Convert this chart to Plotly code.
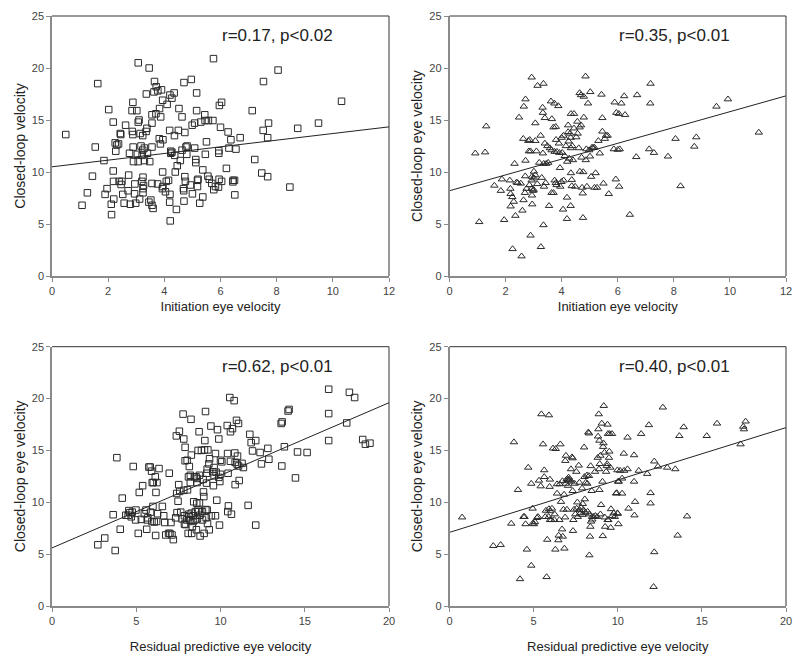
import plotly.graph_objects as go

# ---------------- data ----------------
tl_points = [(0.49,13.6),(1.07,6.8),(1.26,8.0),(1.44,9.6),(1.54,12.4),(1.63,18.5),(1.85,11.1),(1.89,7.85),(1.96,8.4),(2.02,16.0),(2.11,6.9),(2.12,5.9),(2.18,10.1),(2.18,14.8),(2.2,7.4),(2.19,9.1),(2.25,12.8),(2.27,12.0),(2.31,12.6),(2.37,12.7),(2.43,13.7),(2.45,13.6),(2.39,9.1),(2.46,8.8),(2.49,9.1),(2.52,7.85),(2.57,7.0),(2.62,14.5),(2.73,9.7),(2.76,11.8),(2.79,6.9),(2.71,8.2),(2.88,16.7),(2.85,15.9),(2.86,13.9),(2.88,13.6),(2.89,12.4),(2.9,11.0),(2.95,8.85),(2.94,7.9),(2.98,7.0),(3.02,15.9),(3.07,20.5),(3.07,14.8),(3.1,15.0),(3.04,11.7),(3.07,11.0),(3.12,7.4),(3.14,13.7),(3.17,12.5),(3.23,13.5),(3.23,12.1),(3.21,11.6),(3.2,9.1),(3.24,9.5),(3.24,8.4),(3.24,8.0),(3.26,8.7),(3.29,11.1),(3.29,12.3),(3.35,13.9),(3.36,17.5),(3.38,14.2),(3.4,11.8),(3.45,7.1),(3.46,20.0),(3.48,11.0),(3.52,7.3),(3.56,15.5),(3.56,14.7),(3.56,12.4),(3.56,8.9),(3.56,6.8),(3.6,6.5),(3.65,18.7),(3.7,15.6),(3.63,17.7),(3.71,18.2),(3.77,17.8),(3.83,16.1),(3.82,13.2),(3.87,15.3),(3.86,12.7),(3.76,8.85),(3.9,17.9),(3.94,16.9),(3.94,10.0),(3.93,8.4),(3.95,8.6),(3.95,13.1),(4.04,8.1),(4.07,9.1),(4.1,16.5),(4.15,9.2),(4.19,14.0),(4.2,17.4),(4.23,12.0),(4.23,11.8),(4.19,7.1),(4.2,7.85),(4.21,5.3),(4.27,17.1),(4.27,11.9),(4.35,17.6),(4.36,13.5),(4.37,11.6),(4.39,10.0),(4.43,6.4),(4.46,10.6),(4.5,14.0),(4.52,16.1),(4.57,11.1),(4.63,15.3),(4.63,12.1),(4.68,8.4),(4.69,8.2),(4.7,7.2),(4.7,18.6),(4.73,13.8),(4.73,9.55),(4.75,9.1),(4.77,12.4),(4.81,12.5),(4.8,11.7),(4.93,8.75),(4.96,18.9),(4.99,14.5),(5.0,7.9),(5.08,14.7),(5.08,12.3),(5.12,10.9),(5.12,11.2),(5.15,17.6),(5.15,15.9),(5.18,9.2),(5.18,8.6),(5.2,9.3),(5.26,7.0),(5.3,14.8),(5.37,10.2),(5.37,7.6),(5.44,15.5),(5.45,14.95),(5.46,11.7),(5.5,12.9),(5.55,9.6),(5.57,14.95),(5.6,9.3),(5.73,14.95),(5.75,20.9),(5.69,8.9),(5.76,8.3),(5.82,8.6),
    (5.93,8.55),(5.95,9.3),(6.04,9.1),(5.94,12.05),(5.94,11.8),(5.96,16.4),(6.04,16.7),(6.0,14.3),(6.27,13.85),(6.37,13.1),(6.3,12.3),(6.21,10.35),(6.45,9.2),(6.5,9.2),(6.44,9.05),(6.51,7.8),(6.55,12.2),(6.7,13.3),(7.13,15.9),(7.22,11.2),(7.47,9.9),(7.53,18.7),(7.52,14.0),(7.68,13.3),(7.71,14.7),(7.68,9.55),(8.05,19.8),(8.47,8.55),(8.75,14.2),(9.49,14.7),(10.31,16.8)]

tr_points = [(0.92,11.8),(1.06,5.2),(1.27,11.9),(1.31,14.4),(1.6,8.7),(1.83,8.2),(1.87,9.3),(1.95,5.4),(2.15,9.2),(2.17,8.4),(2.18,7.9),(2.18,6.7),(2.24,7.6),(2.25,2.6),(2.29,7.15),(2.32,10.8),(2.35,5.8),(2.39,9.0),(2.43,8.95),(2.48,15.25),(2.54,8.9),(2.57,1.9),(2.6,6.3),(2.63,13.2),(2.64,7.3),(2.65,16.3),(2.69,8.0),(2.71,17.0),(2.71,11.1),(2.7,9.6),(2.75,8.4),(2.81,13.0),(2.83,12.0),(2.86,13.1),(2.85,8.75),(2.89,12.0),(2.89,3.9),(2.93,19.1),(2.93,9.2),(2.94,9.55),(2.93,8.4),(2.94,7.75),(2.98,8.2),(2.95,6.9),(3.0,8.3),(3.01,10.05),(3.02,9.4),(3.06,13.0),(3.06,14.7),(3.06,9.7),(3.1,12.0),(3.14,18.3),(3.13,8.85),(3.2,10.9),(3.25,13.5),(3.26,2.8),(3.29,9.45),(3.32,16.2),(3.33,15.7),(3.35,18.5),(3.33,11.8),(3.35,4.9),(3.36,10.8),(3.37,8.6),(3.4,15.2),(3.4,12.75),(3.43,8.95),(3.45,10.8),(3.49,12.5),(3.52,10.9),(3.55,6.75),(3.58,12.3),(3.62,16.8),(3.64,12.1),(3.65,15.1),(3.64,8.0),(3.71,8.0),(3.74,16.6),(3.71,14.3),(3.75,9.2),(3.75,11.95),(3.79,14.35),(3.8,13.1),(3.79,8.95),(3.82,8.75),(3.83,11.95),(3.88,16.35),(3.9,12.75),(3.92,11.85),(3.94,10.4),(3.95,8.6),(3.99,9.05),(4.0,13.3),(4.02,11.85),(4.05,6.4),(4.06,13.5),(4.07,9.2),(4.11,11.55),(4.15,12.5),(4.19,7.55),(4.19,5.5),(4.2,11.0),(4.23,14.5),(4.23,13.85),(4.25,12.95),(4.27,11.3),(4.3,13.7),(4.32,13.3),(4.32,6.75),(4.33,15.6),(4.33,9.9),(4.33,12.3),(4.36,9.25),(4.36,8.65),(4.38,12.5),(4.4,11.15),(4.44,15.6),(4.44,14.2),(4.48,8.6),(4.52,13.35),(4.56,14.85),(4.57,13.7),(4.61,12.3),(4.64,17.6),(4.64,14.3),(4.65,10.05),(4.69,17.4),(4.69,14.5),(4.71,11.4),(4.73,8.5),(4.75,7.95),(4.76,5.6),(4.77,10.0),(4.79,15.25),(4.79,17.25),(4.85,19.2),(4.86,11.15),(4.88,12.2),(4.9,8.6),(4.94,16.6),(4.98,12.1),(5.01,11.5),(5.02,17.7),(5.05,9.55),(5.08,12.35),(5.12,12.35),(5.17,12.35),(5.17,8.5),(5.21,9.9),(5.26,8.5),(5.31,13.0),(5.36,11.8),(5.42,17.45),(5.45,15.2),(5.45,13.9),(5.49,8.9),(5.54,13.2),(5.58,13.5),(5.64,13.5),(5.68,7.9),(5.89,16.7),(5.86,12.2),(5.93,9.3),(5.95,15.7),(6.0,12.15),(6.05,8.6),
    (6.04,15.6),(6.13,16.6),(6.23,17.3),(6.26,15.5),(6.07,12.2),(6.43,5.9),(6.66,11.45),(6.69,17.4),(7.12,12.2),(7.17,18.5),(7.16,16.6),(7.29,11.85),(7.79,11.5),(8.06,13.2),(8.24,8.65),(8.73,12.45),(8.8,13.35),(9.52,16.3),(9.93,17.0),(11.03,13.8)]

bl_points = [(2.72,5.9),(3.13,6.55),(3.63,8.8),(3.75,5.35),(3.85,14.3),(4.05,7.4),(4.17,10.4),(4.38,8.75),(4.52,8.75),(4.56,9.2),(4.62,9.0),(4.7,8.6),(4.76,9.05),(4.82,13.45),(4.96,8.3),(4.98,9.25),(5.12,7.0),(5.18,10.95),(5.3,8.35),(5.38,11.6),(5.48,8.9),(5.58,9.25),(5.62,7.4),(5.65,8.3),(5.69,8.5),(5.75,13.4),(5.83,13.4),(5.85,9.05),(5.91,13.0),(5.93,8.15),(5.95,11.9),(5.99,9.6),(6.01,11.9),(6.07,8.1),(6.13,12.45),(6.15,6.8),(6.17,10.95),(6.21,8.15),(6.23,11.9),(6.27,8.9),(6.35,13.25),(6.55,9.6),(6.63,8.7),(6.69,8.05),(6.75,6.85),(6.92,7.0),(6.96,12.8),(7.0,7.0),(7.06,8.05),(7.12,6.85),(7.2,6.4),(7.34,8.5),(7.38,16.4),(7.4,10.85),(7.42,9.0),(7.48,10.1),(7.52,11.7),(7.56,16.85),(7.58,11.05),(7.64,9.05),(7.72,8.4),(7.78,18.5),(7.82,16.1),(7.82,11.15),(7.86,8.7),(7.86,7.9),(7.9,15.3),(7.92,7.85),(7.9,14.0),(7.99,8.3),(8.02,14.05),(8.04,11.2),(8.08,7.0),(8.1,12.45),(8.12,8.85),(8.14,8.6),(8.15,13.45),(8.19,8.25),(8.21,12.6),(8.21,11.9),(8.25,18.0),(8.27,8.95),(8.27,14.55),(8.29,7.0),(8.33,7.65),(8.37,8.15),(8.37,8.7),(8.41,10.05),(8.45,12.45),(8.49,8.3),(8.51,9.1),(8.55,12.45),(8.57,7.35),(8.59,9.9),(8.61,11.9),(8.61,12.3),(8.63,8.4),(8.67,9.25),(8.67,15.0),(8.69,9.1),(8.73,16.8),(8.75,12.6),(8.75,9.95),(8.77,8.75),(8.79,6.75),(8.87,15.0),(8.93,9.1),(8.93,8.3),(8.97,12.2),(8.99,11.0),(9.01,10.55),(9.03,7.0),(9.05,15.05),(9.11,18.75),(9.13,9.3),(9.15,8.5),(9.17,11.85),(9.19,12.8),(9.21,13.2),(9.21,9.25),(9.23,7.95),(9.25,15.05),(9.31,13.7),(9.33,7.35),(9.35,14.2),(9.43,17.35),(9.46,8.7),(9.54,12.95),(9.58,11.6),(9.62,12.55),(9.7,14.7),(9.7,8.7),(9.74,12.9),(9.78,10.2),(9.82,17.0),(9.9,16.1),(9.94,7.8),(9.9,12.4),
    (10.55,20.1),(10.81,19.8),(10.71,17.1),(10.4,17.4),(10.95,17.9),(11.07,17.6),(10.59,16.8),(9.07,15.95),(10.42,14.7),(10.85,14.75),(11.01,14.45),(10.08,13.9),(10.59,13.95),(10.0,14.05),(9.62,13.35),(10.87,13.85),(10.99,13.65),(11.07,13.5),(11.28,13.75),(11.36,13.35),(10.0,12.7),(10.45,12.8),(9.96,12.0),(10.87,11.7),(11.11,12.1),(10.47,9.65),(10.43,9.1),(10.65,8.85),(11.64,9.7),(12.09,7.8),(11.74,16.55),(11.82,15.75),(12.09,15.95),(11.9,14.95),(12.35,14.8),(12.43,13.7),(12.81,15.2),(12.87,14.15),(13.6,17.6),(13.66,17.75),(14.01,18.8),(14.07,18.95),(13.79,15.35),(13.64,13.5),(14.57,14.85),(15.14,14.8),(14.45,12.35),(16.42,20.9),(16.42,18.55),(16.42,15.95),(17.65,20.6),(17.96,20.1),(17.49,17.65),(18.44,16.05),(18.6,15.6),(18.87,15.7)]

br_points = [(0.75,8.55),(2.6,5.8),(3.04,5.9),(3.67,7.95),(3.83,15.8),(4.07,11.2),(4.19,2.6),(4.4,8.6),(4.46,8.6),(4.52,7.9),(4.6,5.45),(4.68,13.35),(4.86,3.9),(4.86,11.8),(4.94,9.4),(4.94,7.95),(5.02,7.9),(5.08,8.1),(5.2,8.5),(5.26,8.6),(5.32,12.1),(5.42,11.55),(5.46,18.5),(5.56,15.6),(5.63,13.1),(5.63,12.45),(5.69,8.6),(5.73,9.2),(5.77,2.8),(5.81,6.4),(5.89,8.6),(5.91,18.4),(5.91,9.35),(5.97,12.2),(5.95,11.5),(5.97,8.3),(5.99,9.15),(6.05,8.3),(6.09,9.4),(6.15,15.2),(6.23,8.3),(6.25,8.85),(6.29,5.45),(6.31,15.15),(6.39,11.75),(6.39,10.85),(6.47,6.35),(6.49,6.8),(6.53,8.3),(6.55,11.75),(6.59,15.6),(6.63,10.05),(6.69,7.4),(6.71,12.05),(6.73,6.7),(6.77,9.3),(6.81,10.75),(6.83,5.55),(6.87,8.55),(6.88,14.0),(6.9,11.8),(6.92,14.5),(6.96,12.2),(6.98,9.3),(7.04,11.6),(7.06,12.2),(7.08,12.4),(7.1,12.1),(7.16,12.2),(7.22,13.2),(7.24,12.0),(7.28,14.35),(7.32,14.25),(7.32,11.1),(7.34,7.25),(7.36,8.3),(7.4,9.3),(7.44,11.8),(7.48,8.85),(7.54,12.95),(7.56,9.4),(7.6,10.0),(7.62,8.6),(7.68,13.55),(7.72,11.9),(7.74,9.25),(7.78,8.95),(7.82,9.5),(7.88,11.35),(7.9,8.8),(7.92,9.85),(7.96,9.25),(8.0,15.3),(8.02,12.45),(8.04,10.3),(8.08,9.0),(8.1,11.9),(8.17,12.6),(8.19,11.8),(8.21,9.1),(8.25,16.75),(8.29,16.65),(8.29,12.55),(8.31,8.85),(8.31,4.9),(8.35,6.7),(8.37,7.65),(8.39,13.5),(8.41,8.15),(8.45,11.1),(8.47,8.6),(8.49,8.35),(8.55,8.6),(8.65,12.95),(8.67,8.7),(8.77,8.6),(8.81,14.3),(8.83,16.35),(8.85,17.05),(8.87,18.5),(8.89,13.2),(8.91,15.95),(8.91,11.2),(8.93,13.7),(8.97,14.5),(8.97,8.85),(9.01,9.75),(9.05,17.6),(9.09,12.0),(9.11,6.75),(9.13,15.35),(9.15,15.7),(9.17,19.3),(9.21,14.8),(9.23,8.55),(9.25,7.65),(9.31,12.95),(9.35,13.5),(9.37,13.7),(9.39,17.5),(9.42,16.6),(9.44,8.3),(9.48,14.3),(9.52,16.6),(9.56,13.35),(9.58,7.55),(9.6,9.35),(9.66,16.6),(9.68,8.7),(9.76,8.95),(9.82,8.6),(9.94,10.9),(9.98,8.95),(10.02,12.0),(9.98,13.1),(10.04,7.9),(10.06,12.0),
    (10.14,13.05),(10.38,13.05),(10.58,13.2),(10.26,12.3),(10.26,10.85),(9.9,10.85),(10.0,8.9),(9.4,8.3),(9.5,14.9),(10.36,14.7),(10.58,16.25),(10.97,14.55),(10.97,12.0),(11.03,10.05),(10.99,8.75),(10.64,9.4),(11.25,13.05),(11.39,16.6),(11.75,12.75),(11.85,17.45),(11.95,10.9),(11.95,9.9),(12.17,13.95),(12.39,13.45),(12.17,5.2),(12.13,1.85),(12.68,19.15),(12.94,13.35),(13.42,13.2),(13.56,6.8),(13.66,16.4),(13.92,17.25),(14.12,8.65),(15.29,16.4),(15.9,17.6),(17.3,15.6),(17.46,17.3),(17.5,17.05),(17.6,17.8)]

# regression lines: (intercept, slope)
fit_lines = {"tl": (10.5, 0.32), "tr": (8.2, 0.76), "bl": (5.6, 0.70), "br": (7.1, 0.505)}
annot_texts = {"tl": "r=0.17, p<0.02", "tr": "r=0.35, p<0.01", "bl": "r=0.62, p<0.01", "br": "r=0.40, p<0.01"}
x_titles = {"tl": "Initiation eye velocity", "tr": "Initiation eye velocity",
            "bl": "Residual predictive eye velocity", "br": "Residual predictive eye velocity"}
y_titles = {"tl": "Closed-loop velocity", "tr": "Closed-loop eye velocity",
            "bl": "Closed-loop eye velocity", "br": "Closed-loop eye velocity"}
x_ranges = {"tl": 12, "tr": 12, "bl": 20, "br": 20}
x_dticks = {"tl": 2, "tr": 2, "bl": 5, "br": 5}
y_ticks = [0, 5, 10, 15, 20, 25]

# ---------------- layout ----------------
W, H = 800, 662
FONT = "Liberation Sans, Arial, sans-serif"
panels = {
    "tl": dict(ax="", px=(52, 389), py=(16, 276), pts=tl_points, sym="square-open", ms=6.5, xstand=6),
    "tr": dict(ax="2", px=(449.5, 786), py=(16, 276), pts=tr_points, sym="triangle-up-open", ms=6.5, xstand=6),
    "bl": dict(ax="3", px=(52, 389), py=(346.7, 606), pts=bl_points, sym="square-open", ms=6.5, xstand=16),
    "br": dict(ax="4", px=(449.5, 786), py=(346.7, 606), pts=br_points, sym="triangle-up-open", ms=6.5, xstand=16),
}

fig = go.Figure()
layout = dict(width=W, height=H, margin=dict(l=0, r=0, t=0, b=0),
              paper_bgcolor="white", plot_bgcolor="white", showlegend=False,
              font=dict(family=FONT, color="#333"))
annotations = []
shapes = []
for key, p in panels.items():
    ax = p["ax"]
    xa, ya = "x" + ax, "y" + ax
    xs = [q[0] for q in p["pts"]]
    ys = [q[1] for q in p["pts"]]
    fig.add_trace(go.Scatter(x=xs, y=ys, mode="markers", xaxis=xa, yaxis=ya,
                             marker=dict(symbol=p["sym"], size=p["ms"], color="#2a2a2a",
                                         line=dict(width=1, color="#2a2a2a"))))
    b, m = fit_lines[key]
    xmax = x_ranges[key]
    fig.add_trace(go.Scatter(x=[0, xmax], y=[b, b + m * xmax], mode="lines", xaxis=xa, yaxis=ya,
                             line=dict(color="#222", width=1)))
    xd = [p["px"][0] / W, p["px"][1] / W]
    yd = [1 - p["py"][1] / H, 1 - p["py"][0] / H]
    layout["xaxis" + ax] = dict(domain=xd, range=[0, xmax], dtick=x_dticks[key], tick0=0,
                                automargin=False,
                                showgrid=False, zeroline=False, showline=True, linecolor="#8a8a8a",
                                linewidth=1.5, ticks="outside", ticklen=4, tickcolor="#8a8a8a",
                                tickfont=dict(size=11, color="#444"), anchor=ya,
                                title=dict(text=x_titles[key], font=dict(size=13, color="#222"),
                                           standoff=p["xstand"]))
    layout["yaxis" + ax] = dict(domain=yd, range=[0, 25], tickvals=y_ticks,
                                automargin=False,
                                showgrid=False, zeroline=False, showline=True, linecolor="#8a8a8a",
                                linewidth=1.5, ticks="outside", ticklen=4, tickcolor="#8a8a8a",
                                tickfont=dict(size=11, color="#444"), anchor=xa,
                                title=dict(text=y_titles[key], font=dict(size=14, color="#222"), standoff=3))
    shapes.append(dict(type="line", xref=xa + " domain", yref=ya + " domain", x0=0, x1=1, y0=1, y1=1,
                       line=dict(color="#333", width=1)))
    shapes.append(dict(type="line", xref=xa + " domain", yref=ya + " domain", x0=1, x1=1, y0=0, y1=1,
                       line=dict(color="#333", width=1)))
    annotations.append(dict(text=annot_texts[key], xref=xa + " domain", yref=ya + " domain",
                            x=0.67, y=0.925, showarrow=False, xanchor="center", yanchor="middle",
                            font=dict(size=17, color="#222")))

layout["annotations"] = annotations
layout["shapes"] = shapes
fig.update_layout(**layout)
fig.write_html("out.html", config={"displayModeBar": False},
               post_script="document.body.style.margin='0';")
